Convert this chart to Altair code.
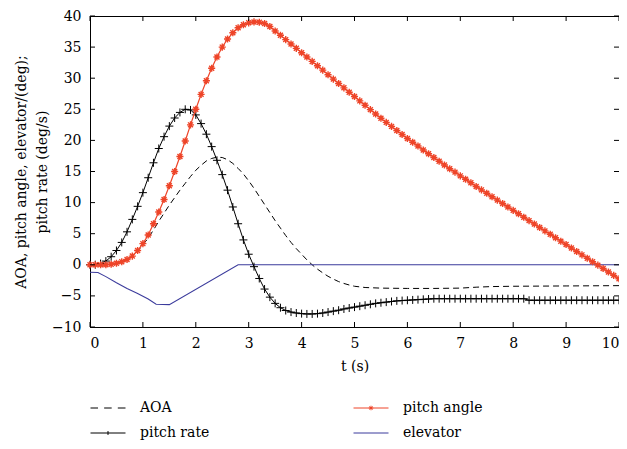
import altair as alt
import pandas as pd

# time grid of the sampled series (s)
T = [i / 10 for i in range(101)]

PITCH_RATE = [
    0.0, 0.02, 0.2, 0.6, 1.3, 2.3, 3.6, 5.3, 7.3, 9.4,
    11.6, 14.0, 16.4, 18.7, 20.6, 22.3, 23.6, 24.5, 25.0, 24.9,
    24.1, 22.7, 21.0, 19.0, 16.8, 14.5, 12.0, 9.3, 6.6, 4.0,
    1.7, -0.3, -2.2, -3.9, -5.2, -6.2, -6.9, -7.35, -7.6, -7.75,
    -7.85, -7.9, -7.9, -7.85, -7.75, -7.6, -7.45, -7.3, -7.1, -6.95,
    -6.8, -6.65, -6.5, -6.35, -6.2, -6.1, -6.0, -5.9, -5.8, -5.75,
    -5.7, -5.65, -5.6, -5.55, -5.5, -5.45, -5.45, -5.45, -5.45, -5.45,
    -5.45, -5.45, -5.45, -5.45, -5.45, -5.45, -5.45, -5.45, -5.45, -5.45,
    -5.45, -5.45, -5.45, -5.7, -5.7, -5.7, -5.7, -5.7, -5.7, -5.7,
    -5.7, -5.7, -5.7, -5.7, -5.7, -5.7, -5.7, -5.7, -5.7, -5.7,
    -5.7,
]

PITCH_ANGLE = [
    0.0, 0.0, 0.0, 0.02, 0.1, 0.25, 0.5, 0.85, 1.4, 2.3,
    3.4, 4.8, 6.6, 8.5, 10.5, 12.7, 15.0, 17.4, 19.9, 22.5,
    25.0, 27.4, 29.6, 31.6, 33.4, 35.0, 36.3, 37.3, 38.1, 38.6,
    38.9, 39.05, 39.0, 38.8, 38.3, 37.6, 36.9, 36.2, 35.5, 34.8,
    34.1, 33.4, 32.7, 32.0, 31.3, 30.55, 29.85, 29.15, 28.45, 27.75,
    27.05, 26.35, 25.65, 24.95, 24.25, 23.55, 22.9, 22.25, 21.6, 20.95,
    20.3, 19.7, 19.1, 18.45, 17.85, 17.25, 16.65, 16.05, 15.45, 14.9,
    14.3, 13.75, 13.2, 12.6, 12.05, 11.5, 10.95, 10.4, 9.85, 9.3,
    8.75, 8.2, 7.65, 7.1, 6.55, 6.0, 5.45, 4.9, 4.35, 3.8,
    3.25, 2.7, 2.15, 1.6, 1.05, 0.5, -0.05, -0.6, -1.15, -1.7,
    -2.25,
]

AOA_T = [0, 0.3, 0.4, 0.5, 0.6, 0.7, 0.8, 0.9, 1.0, 1.1, 1.2, 1.3, 1.4, 1.5, 1.6,
         1.7, 1.8, 1.9, 2.0, 2.1, 2.2, 2.3, 2.4, 2.5, 2.6, 2.7, 2.8, 2.9, 3.0,
         3.1, 3.2, 3.3, 3.4, 3.5, 3.6, 3.7, 3.8, 3.9, 4.0, 4.1, 4.2, 4.3, 4.4,
         4.5, 4.6, 4.7, 4.8, 4.9, 5.0, 5.2, 5.5, 6.0, 6.5, 7.0, 7.3, 7.6, 8.0,
         9.0, 10.0]
AOA_V = [0, 0, 0.05, 0.2, 0.45, 0.85, 1.4, 2.2, 3.2, 4.3, 5.6, 7.0, 8.3, 9.6, 10.8,
         12.0, 13.1, 14.2, 15.2, 16.0, 16.7, 17.1, 17.3, 17.25, 16.9, 16.3, 15.5, 14.6, 13.5,
         12.3, 11.0, 9.7, 8.4, 7.1, 5.9, 4.7, 3.6, 2.6, 1.7, 0.8, 0.0, -0.7, -1.3,
         -1.85, -2.3, -2.7, -3.0, -3.25, -3.45, -3.65, -3.75, -3.8, -3.8, -3.75, -3.6, -3.5, -3.45,
         -3.4, -3.35]

ELEV_T = [0, 0.15, 0.3, 0.5, 0.7, 0.9, 1.1, 1.25, 1.5, 2.8, 10.0]
ELEV_V = [-1.2, -1.25, -1.9, -2.9, -3.8, -4.6, -5.5, -6.35, -6.4, 0.0, 0.0]

X_TICKS = [0, 1, 2, 3, 4, 5, 6, 7, 8, 9, 10]
Y_TICKS = [-10, -5, 0, 5, 10, 15, 20, 25, 30, 35, 40]

# legend order (Vega fills the two legend columns top to bottom)
SERIES = ["AOA", "pitch rate", "pitch angle", "elevator"]
COLORS = ["#000000", "#000000", "#ee4428", "#3b3b9c"]
LEGEND_PATHS = [
    "M-1,0L-0.57,0M-0.22,0L0.21,0M0.56,0L1,0",
    "M-1,0L1,0M0,-0.11L0,0.11",
    "M-1,0L1,0M-0.13,0L0.13,0M0,-0.13L0,0.13M-0.09,-0.09L0.09,0.09M-0.09,0.09L0.09,-0.09",
    "M-1,0L1,0",
]
PLUS_PATH = "M-1,0L1,0M0,-1L0,1"
STAR_PATH = "M-1,0L1,0M0,-1L0,1M-0.7,-0.7L0.7,0.7M-0.7,0.7L0.7,-0.7"

W, H = 529, 311
FONT = "DejaVu Serif"
FS = 14

pr_df = pd.DataFrame({"t": T, "v": PITCH_RATE})
pa_df = pd.DataFrame({"t": T, "v": PITCH_ANGLE})
aoa_df = pd.DataFrame({"t": AOA_T, "v": AOA_V})
el_df = pd.DataFrame({"t": ELEV_T, "v": ELEV_V})
leg_df = pd.DataFrame({
    "t": [AOA_T[0], T[0], T[0], ELEV_T[0]],
    "v": [AOA_V[0], PITCH_RATE[0], PITCH_ANGLE[0], ELEV_V[0]],
    "series": SERIES,
})
xt_df = pd.DataFrame({"tx": X_TICKS})
yt_df = pd.DataFrame({"ty": Y_TICKS})

xs = alt.Scale(domain=[0, 10], nice=False)
ys = alt.Scale(domain=[-10, 40], nice=False)
x_axis = alt.Axis(values=X_TICKS, labelPadding=9, titlePadding=9,
                  labelFont=FONT, titleFont=FONT)
y_axis = alt.Axis(values=Y_TICKS, labelPadding=9, titlePadding=2, titleLineHeight=21,
                  labelFont=FONT, titleFont=FONT)
X_TITLE = "t (s)"
Y_TITLE = ["AOA, pitch angle, elevator/(deg);", "pitch rate (deg/s)"]


def xenc(field="t:Q"):
    return alt.X(field, scale=xs, axis=x_axis, title=X_TITLE)


def yenc(field="v:Q"):
    return alt.Y(field, scale=ys, axis=y_axis, title=Y_TITLE)


aoa = alt.Chart(aoa_df).mark_line(color="black", strokeWidth=1, strokeDash=[6, 4]).encode(
    x=xenc(), y=yenc())
elev = alt.Chart(el_df).mark_line(color=COLORS[3], strokeWidth=1.1).encode(x=xenc(), y=yenc())
pr_line = alt.Chart(pr_df).mark_line(color="black", strokeWidth=1).encode(x=xenc(), y=yenc())
pr_pts = alt.Chart(pr_df).mark_point(shape=PLUS_PATH, size=64, color="black", strokeWidth=1,
                                     filled=False, opacity=1).encode(x=xenc(), y=yenc())
pa_line = alt.Chart(pa_df).mark_line(color=COLORS[2], strokeWidth=1.2).encode(x=xenc(), y=yenc())
pa_pts = alt.Chart(pa_df).mark_point(shape=STAR_PATH, size=50, color=COLORS[2], strokeWidth=1.4,
                                     filled=False, opacity=1).encode(x=xenc(), y=yenc())

tick_b = alt.Chart(xt_df).mark_rule(color="black", strokeWidth=1).encode(
    x=xenc("tx:Q"), y=alt.value(H), y2=alt.value(H - 5))
tick_t = alt.Chart(xt_df).mark_rule(color="black", strokeWidth=1).encode(
    x=xenc("tx:Q"), y=alt.value(0), y2=alt.value(5))
tick_l = alt.Chart(yt_df).mark_rule(color="black", strokeWidth=1).encode(
    y=yenc("ty:Q"), x=alt.value(0), x2=alt.value(5))
tick_r = alt.Chart(yt_df).mark_rule(color="black", strokeWidth=1).encode(
    y=yenc("ty:Q"), x=alt.value(W), x2=alt.value(W - 5))

legend = alt.Legend(
    title=None, orient="none", legendX=0, legendY=382, columns=2,
    symbolSize=1225, symbolStrokeWidth=1, clipHeight=20, rowPadding=5,
    columnPadding=143, labelOffset=14, labelFont=FONT, labelFontSize=FS,
    labelColor="black", padding=0, symbolFillColor="transparent",
)
helper = alt.Chart(leg_df).mark_point(opacity=0, filled=False).encode(
    x=xenc(), y=yenc(),
    color=alt.Color("series:N", scale=alt.Scale(domain=SERIES, range=COLORS), legend=legend),
    shape=alt.Shape("series:N", scale=alt.Scale(domain=SERIES, range=LEGEND_PATHS), legend=legend),
)

chart = alt.layer(
    aoa, elev, pr_line, pr_pts, pa_line, pa_pts, tick_b, tick_t, tick_l, tick_r, helper
).properties(
    width=W, height=H,
    padding={"left": 82, "top": 8, "right": 0, "bottom": 114},
    autosize=alt.AutoSizeParams(type="none"),
).configure(
    font=FONT
).configure_view(
    stroke="black", strokeWidth=1
).configure_axis(
    labelFont=FONT, labelFontSize=FS, labelColor="black",
    titleFont=FONT, titleFontSize=FS, titleFontWeight="normal", titleColor="black",
    domainColor="black", domainWidth=1, ticks=False, grid=False,
)

chart.save("out.html", embed_options={"renderer": "svg", "actions": False})
